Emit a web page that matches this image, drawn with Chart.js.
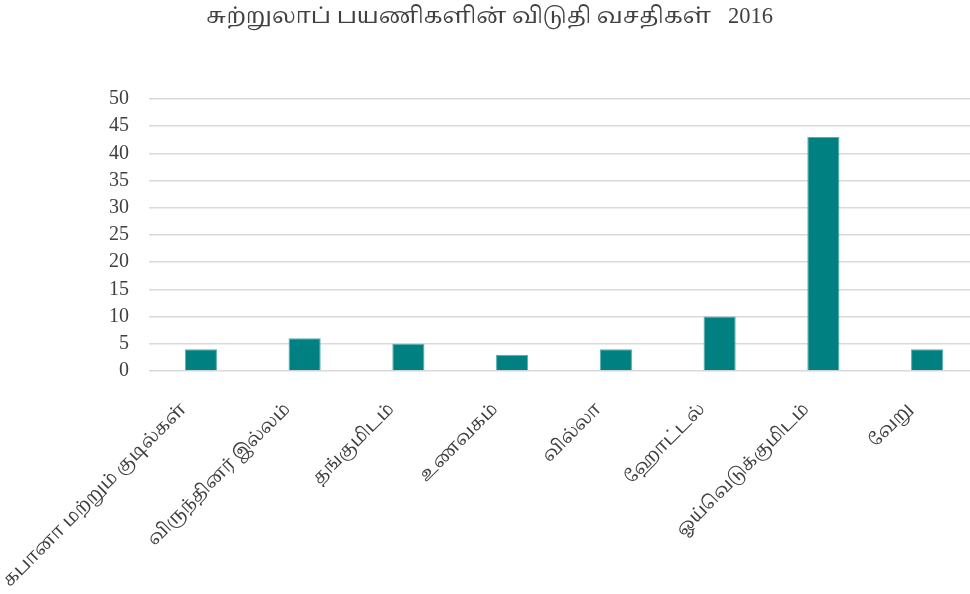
<!DOCTYPE html>
<html>
<head>
<meta charset="utf-8">
<script src="https://cdn.jsdelivr.net/npm/chart.js@4/dist/chart.umd.min.js"></script>
<style>
  html, body { margin: 0; padding: 0; background: #fff; overflow: hidden; }
  #wrap { position: relative; width: 979px; height: 594px; }
</style>
</head>
<body>
<div id="wrap"><canvas id="c"></canvas></div>
<script>
// Accommodation types used by tourists, 2016
const categories = [
  'கபானா மற்றும் குடில்கள்',
  'விருந்தினர் இல்லம்',
  'தங்குமிடம்',
  'உணவகம்',
  'வில்லா',
  'ஹோட்டல்',
  'ஓய்வெடுக்குமிடம்',
  'வேறு'
];
const counts = [4, 6, 5, 3, 4, 10, 43, 4];
const yTicks = [0, 5, 10, 15, 20, 25, 30, 35, 40, 45, 50];
const chartTitle = 'சுற்றுலாப் பயணிகளின் விடுதி வசதிகள்   2016';

const serif = "'Liberation Serif', 'Times New Roman', 'Noto Serif Tamil', 'Noto Sans Tamil', 'Lohit Tamil', serif";

new Chart(document.getElementById('c'), {
  type: 'bar',
  data: {
    labels: categories,
    datasets: [{
      data: counts,
      backgroundColor: '#008080',
      borderColor: '#5aadad',
      borderWidth: 1,
      barPercentage: 0.31,
      categoryPercentage: 1.0
    }]
  },
  options: {
    responsive: true,
    maintainAspectRatio: false,
    animation: false,
    layout: { padding: { left: 0, right: 0, top: 0, bottom: 0 } },
    plugins: {
      legend: { display: false },
      tooltip: { enabled: false },
      title: {
        display: true,
        text: chartTitle,
        color: '#404040',
        font: { family: serif, size: 22.5, weight: 'normal' },
        padding: { top: 4, bottom: 68 }
      }
    },
    scales: {
      x: {
        grid: { display: false },
        border: { display: false },
        ticks: {
          color: '#404040',
          font: { family: serif, size: 18 },
          minRotation: 45,
          maxRotation: 45,
          padding: 20,
          labelOffset: -17
        },
        afterFit(axis) {
          axis.height = 223;
          axis.paddingLeft = 0;
          axis.paddingRight = 0;
        }
      },
      y: {
        min: 0,
        max: 50,
        afterBuildTicks(axis) { axis.ticks = yTicks.map(v => ({ value: v })); },
        grid: { color: '#d9d9d9', lineWidth: 1.5, drawTicks: false },
        border: { display: false },
        ticks: {
          color: '#404040',
          font: { family: serif, size: 20 },
          padding: 20
        },
        afterFit(axis) { axis.width = 149; }
      }
    }
  }
});
</script>
</body>
</html>
